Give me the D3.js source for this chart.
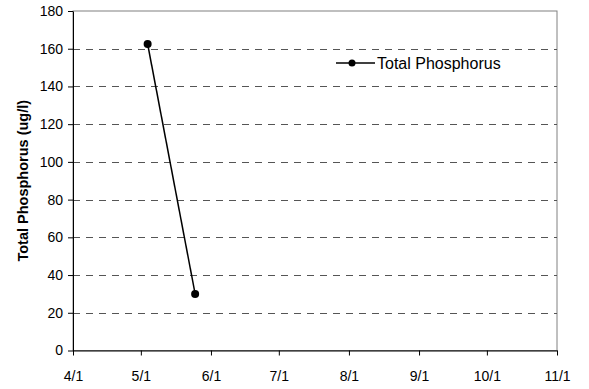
<!DOCTYPE html>
<html><head><meta charset="utf-8">
<script src="https://cdn.jsdelivr.net/npm/d3@7"></script>
<style>body{margin:0;background:#fff}text{font-family:"Liberation Sans",Arial,sans-serif}</style>
</head><body><svg id="c" width="589" height="389"></svg>
<script>
const dates = ["2000-05-04", "2000-05-25"];
const values = [162.5, 30];
const seriesName = "Total Phosphorus";
const yTicks = [0, 20, 40, 60, 80, 100, 120, 140, 160, 180];
const xTickDates = ["2000-04-01","2000-05-01","2000-06-01","2000-07-01","2000-08-01","2000-09-01","2000-10-01","2000-11-01"];
const yTitle = "Total Phosphorus (ug/l)";

const parse = d3.utcParse("%Y-%m-%d");
const fmt = d => (d.getUTCMonth()+1) + "/" + d.getUTCDate();
const svg = d3.select("#c");
const L = 73, R = 557, T = 11, B = 350.5;
const x = d3.scaleUtc().domain([parse(xTickDates[0]), parse(xTickDates[xTickDates.length-1])]).range([L, R]);
const y = d3.scaleLinear().domain([0, 180]).range([B, T]);

// plot border (grey)
svg.append("rect").attr("x", L).attr("y", T).attr("width", R-L).attr("height", B-T)
  .attr("fill", "none").attr("stroke", "#808080").attr("stroke-width", 1);

// gridlines
svg.append("g").selectAll("line").data(yTicks.filter(v => v > 0 && v < 180)).join("line")
  .attr("x1", L).attr("x2", R).attr("y1", d => Math.round(y(d))+0.5).attr("y2", d => Math.round(y(d))+0.5)
  .attr("stroke", "#555").attr("stroke-width", 1).attr("stroke-dasharray", "7,6");

// y axis
const ya = svg.append("g").attr("transform", `translate(${L},0)`)
  .call(d3.axisLeft(y).tickValues(yTicks).tickSize(5).tickSizeOuter(0));
ya.select(".domain").attr("stroke", "#000");
ya.selectAll(".tick line").attr("stroke", "#000");
ya.selectAll("text").attr("font-size", 14).attr("fill", "#000").attr("x", -10);

// x axis
const xa = svg.append("g").attr("transform", `translate(0,${B})`)
  .call(d3.axisBottom(x).tickValues(xTickDates.map(parse)).tickFormat(fmt).tickSize(5).tickSizeOuter(0));
xa.select(".domain").attr("stroke", "#000");
xa.selectAll(".tick line").attr("stroke", "#000");
xa.selectAll("text").attr("font-size", 14).attr("fill", "#000").attr("y", 21);

// y title
svg.append("text").attr("transform", `translate(28,${(T+B)/2}) rotate(-90)`)
  .attr("text-anchor", "middle").attr("font-size", 14.5).attr("font-weight", "bold").text(yTitle);

// series
const pts = dates.map((d, i) => ({d: parse(d), v: values[i]}));
svg.append("path").datum(pts).attr("fill", "none").attr("stroke", "#000").attr("stroke-width", 1.5)
  .attr("d", d3.line().x(p => x(p.d)).y(p => y(p.v)));
svg.append("g").selectAll("circle").data(pts).join("circle")
  .attr("cx", p => x(p.d)).attr("cy", p => y(p.v)).attr("r", 4).attr("fill", "#000");

// legend
const lg = svg.append("g").attr("transform", "translate(336,63)");
lg.append("rect").attr("x", -4).attr("y", -10).attr("width", 175).attr("height", 20).attr("fill", "#fff");
lg.append("line").attr("x1", 0).attr("x2", 39).attr("y1", 0).attr("y2", 0).attr("stroke", "#000").attr("stroke-width", 1.5);
lg.append("circle").attr("cx", 16).attr("cy", 0).attr("r", 3.5).attr("fill", "#000");
lg.append("text").attr("x", 41).attr("y", 5.5).attr("font-size", 16).text(seriesName);
</script></body></html>
